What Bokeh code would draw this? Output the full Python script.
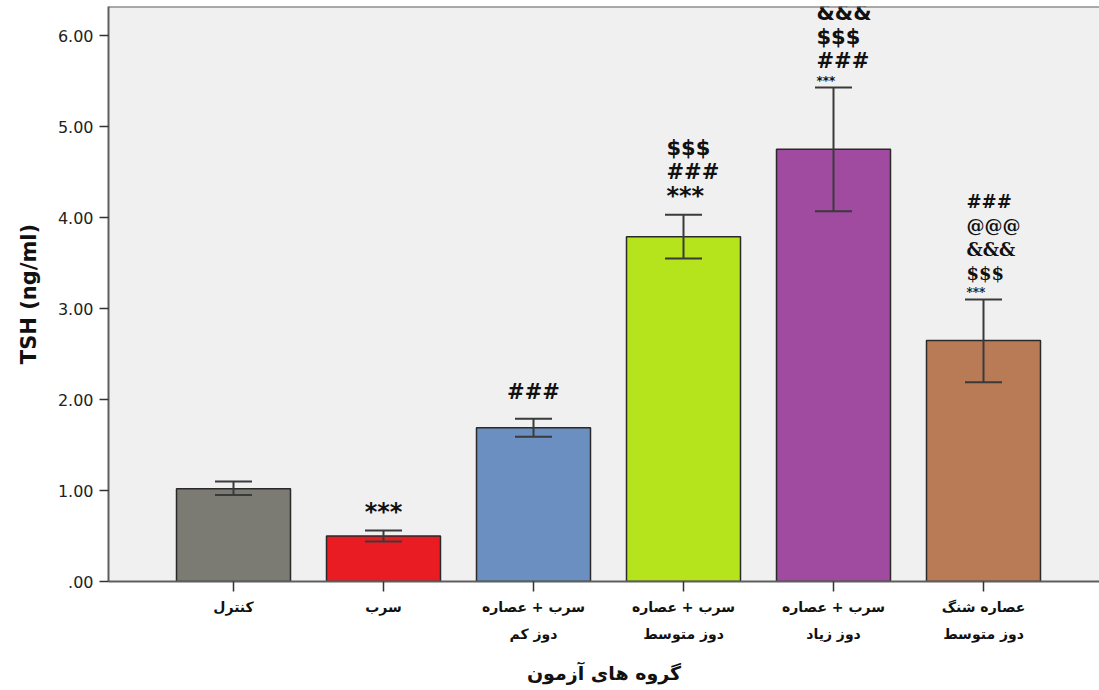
from bokeh.plotting import figure
from bokeh.models import (Range1d, LinearAxis, FixedTicker, PrintfTickFormatter,
                          ColumnDataSource, Whisker, TeeHead, Span)
from bokeh.embed import file_html
from bokeh.resources import INLINE

# ---------------- data ----------------
GROUPS = ["کنترل", "سرب", "سرب + عصاره", "سرب + عصاره", "سرب + عصاره", "عصاره شنگ"]
GROUPS_LINE2 = ["", "", "دوز کم", "دوز متوسط", "دوز زیاد", "دوز متوسط"]
MEANS = [1.02, 0.50, 1.69, 3.79, 4.75, 2.65]
ERR_LO = [0.95, 0.44, 1.59, 3.55, 4.07, 2.19]
ERR_HI = [1.10, 0.56, 1.79, 4.03, 5.43, 3.10]
COLORS = ["#7b7b74", "#e81c22", "#6a8fc0", "#b5e41d", "#a04aa0", "#b97a56"]
ANNOT = [[], ["***"], ["###"], ["***", "###", "$$$"], ["***", "###", "$$$", "&&&"],
         ["***", "$$$", "&&&", "@@@", "###"]]
SMALL_FIRST = [False, False, False, False, True, True]
Y_TICKS = [0, 1, 2, 3, 4, 5, 6]
Y_TITLE = "TSH (ng/ml)"
X_TITLE = "گروه های آزمون"

# ---------------- layout / style ----------------
W, H = 1099, 690
FRAME_LEFT, FRAME_BOTTOM, FRAME_TOP = 108, 109, 6
FRAME_W = W - FRAME_LEFT
FRAME_H = H - FRAME_BOTTOM - FRAME_TOP
CAT_PX = 150.0
FIRST_CENTER_PX = 125.0
Y_TOP = 6.32
PX_PER_UNIT = FRAME_H / Y_TOP
X_START = -FIRST_CENTER_PX / CAT_PX
X_END = X_START + FRAME_W / CAT_PX
SERIF_BARS = {5}
AXIS_COLOR = "#5e5e5e"
TEXT_COLOR = "#111111"

n = len(MEANS)
xs = list(range(n))
src = ColumnDataSource(dict(x=xs, mean=MEANS, lo=ERR_LO, hi=ERR_HI, color=COLORS))

p = figure(width=W, height=H, x_range=Range1d(X_START, X_END), y_range=Range1d(0, Y_TOP),
           output_backend="svg", toolbar_location=None,
           min_border_left=FRAME_LEFT, min_border_right=0, min_border_top=FRAME_TOP,
           min_border_bottom=FRAME_BOTTOM, x_axis_location=None, y_axis_location=None)
p.background_fill_color = "#f0f0f0"
p.border_fill_color = "white"
p.outline_line_color = None
p.grid.visible = False

# y axis
yax = LinearAxis(ticker=FixedTicker(ticks=Y_TICKS), formatter=PrintfTickFormatter(format="%.2f"))
yax.major_label_overrides = {0: ".00"}
yax.axis_label = Y_TITLE
yax.axis_label_text_font = "DejaVu Sans"
yax.axis_label_text_font_style = "bold"
yax.axis_label_text_font_size = "21px"
yax.axis_label_text_color = TEXT_COLOR
yax.axis_label_standoff = 14
yax.major_label_text_font = "DejaVu Sans"
yax.major_label_text_font_size = "16px"
yax.major_label_text_color = "#222222"
yax.major_label_standoff = 6
yax.axis_line_color = AXIS_COLOR
yax.axis_line_width = 2
yax.major_tick_line_color = "#333333"
yax.major_tick_line_width = 1.5
yax.major_tick_out = 9
yax.major_tick_in = 0
yax.minor_tick_line_color = None
p.add_layout(yax, "left")

# x axis: first line of labels
xax = LinearAxis(ticker=FixedTicker(ticks=xs))
xax.major_label_overrides = {i: GROUPS[i] for i in xs}
xax.major_label_text_font = "DejaVu Sans"
xax.major_label_text_font_style = "bold"
xax.major_label_text_font_size = "14px"
xax.major_label_text_color = TEXT_COLOR
xax.major_label_standoff = 7
xax.axis_line_color = AXIS_COLOR
xax.axis_line_width = 2
xax.major_tick_line_color = "#333333"
xax.major_tick_line_width = 1.5
xax.major_tick_out = 10
xax.major_tick_in = 0
xax.minor_tick_line_color = None
p.add_layout(xax, "below")

# x axis: second line of labels + title
xax2 = LinearAxis(ticker=FixedTicker(ticks=xs))
xax2.major_label_overrides = {i: GROUPS_LINE2[i] for i in xs}
xax2.major_label_text_font = "DejaVu Sans"
xax2.major_label_text_font_style = "bold"
xax2.major_label_text_font_size = "14px"
xax2.major_label_text_color = TEXT_COLOR
xax2.major_label_standoff = 2
xax2.axis_line_color = None
xax2.major_tick_line_color = None
xax2.minor_tick_line_color = None
xax2.axis_label = X_TITLE
xax2.axis_label_text_font = "DejaVu Sans"
xax2.axis_label_text_font_style = "bold"
xax2.axis_label_text_font_size = "19px"
xax2.axis_label_text_color = TEXT_COLOR
xax2.axis_label_standoff = 17
p.add_layout(xax2, "below")

# top border
p.add_layout(Span(location=Y_TOP, dimension="width", line_color=AXIS_COLOR, line_width=2))

# bars
p.vbar(x="x", top="mean", width=0.76, fill_color="color", line_color="#2a2a2a",
       line_width=1.5, source=src)

# error bars
whisk = Whisker(base="x", upper="hi", lower="lo", source=src, line_color="#3a3a3a", line_width=2,
                upper_head=TeeHead(size=37, line_color="#3a3a3a", line_width=2),
                lower_head=TeeHead(size=37, line_color="#3a3a3a", line_width=2),
                level="overlay")
p.add_layout(whisk)

# significance annotations
LEFT_SHIFT = 17.0 / CAT_PX
rows_c = dict(x=[], y=[], t=[], fs=[], font=[])
rows_l = dict(x=[], y=[], t=[], fs=[], font=[])
for i in xs:
    syms = ANNOT[i]
    if not syms:
        continue
    serif = i in SERIF_BARS
    off = None
    prev_small = False
    for k, s in enumerate(syms):
        small = (k == 0 and SMALL_FIRST[i])
        if small:
            fs = "12px"
        elif s == "***":
            fs = "24px"
        else:
            fs = "18px" if serif else "21px"
        if off is None:
            off = 6 if small else (19 if s == "***" else 27)
        else:
            off += 20 if prev_small else 24
        prev_small = small
        target = rows_c if len(syms) == 1 else rows_l
        target["x"].append(i if len(syms) == 1 else i - LEFT_SHIFT)
        target["y"].append(ERR_HI[i] + off / PX_PER_UNIT)
        target["t"].append(s)
        target["fs"].append(fs)
        target["font"].append("DejaVu Serif" if serif else "DejaVu Sans")

p.text(x="x", y="y", text="t", text_font="font", text_font_size="fs", text_font_style="bold",
       text_align="center", text_baseline="middle", text_color=TEXT_COLOR,
       source=ColumnDataSource(rows_c))
p.text(x="x", y="y", text="t", text_font="font", text_font_size="fs", text_font_style="bold",
       text_align="left", text_baseline="middle", text_color=TEXT_COLOR,
       source=ColumnDataSource(rows_l))

open("out.html", "w").write(file_html(p, INLINE))
